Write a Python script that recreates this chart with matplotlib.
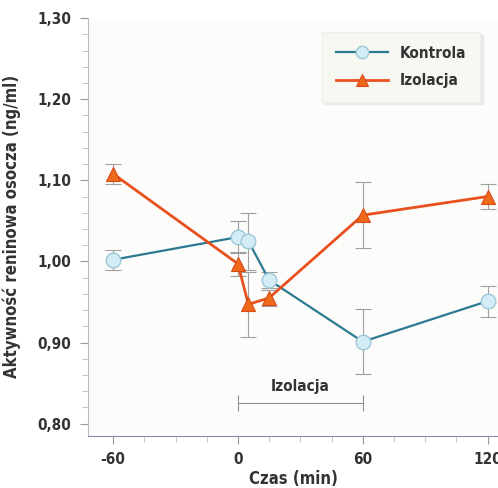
import numpy as np
import matplotlib
matplotlib.use('Agg')
import matplotlib.pyplot as plt
from matplotlib.ticker import MultipleLocator, FuncFormatter

plt.rcParams['font.family'] = ['DejaVu Sans']
plt.rcParams['font.stretch'] = 'condensed'
plt.rcParams['font.weight'] = 'bold'
plt.rcParams['axes.labelweight'] = 'bold'
plt.rcParams['axes.unicode_minus'] = False

# time points (min)
czas = [-60, 0, 5, 15, 60, 120]

kontrola = [1.002, 1.030, 1.025, 0.977, 0.901, 0.951]
kontrola_err = [0.012, 0.020, 0.035, 0.010, 0.040, 0.019]

izolacja = [1.108, 0.997, 0.947, 0.955, 1.057, 1.080]
izolacja_err = [0.012, 0.015, 0.040, 0.010, 0.041, 0.015]

y_ticks = [0.80, 0.90, 1.00, 1.10, 1.20, 1.30]
x_ticks = [-60, 0, 60, 120]
okres_izolacji = [0, 60]

fig = plt.figure(figsize=(4.98, 4.88), dpi=100)
ax = fig.add_axes([0.177, 0.107, 0.823, 0.856])
ax.set_facecolor('#fcfcfa')

ax.errorbar(czas, kontrola, yerr=kontrola_err, fmt='none', ecolor='#a0a0a0',
            elinewidth=0.8, capsize=6, capthick=0.8, zorder=2)
ax.errorbar(czas, izolacja, yerr=izolacja_err, fmt='none', ecolor='#a0a0a0',
            elinewidth=0.8, capsize=6, capthick=0.8, zorder=2)

ax.plot(czas, kontrola, color='#2c7a92', lw=1.6, marker='o', ms=10.5,
        mfc='#d4ecf4', mec='#9cc8d8', mew=1.0, label='Kontrola', zorder=3)
ax.plot(czas, izolacja, color='#e8501e', lw=2.0, marker='^', ms=10,
        mfc='#ee6a1a', mec='#d84a18', mew=0.8, label='Izolacja', zorder=4)

# isolation period bracket
ax.errorbar([np.mean(okres_izolacji)], [0.825], xerr=[[30], [30]], fmt='none',
            ecolor='#909090', elinewidth=0.8, capsize=6, capthick=0.8)
ax.text(np.mean(okres_izolacji), 0.836, 'Izolacja', ha='center', va='bottom',
        fontsize=11, color='#333333')

ax.set_xlim(-72, 125)
ax.set_ylim(0.785, 1.30)
ax.set_xticks(x_ticks)
ax.set_yticks(y_ticks)
ax.xaxis.set_minor_locator(MultipleLocator(15))
ax.yaxis.set_minor_locator(MultipleLocator(0.02))
ax.yaxis.set_major_formatter(FuncFormatter(lambda v, p: f'{v:.2f}'.replace('.', ',')))
ax.tick_params(axis='both', which='major', length=6, width=0.8, color='#999999',
               labelsize=11, labelcolor='#333333', pad=6)
ax.tick_params(axis='both', which='minor', length=4, width=0.6, color='#bbbbbb')

for s in ['top', 'right']:
    ax.spines[s].set_visible(False)
ax.spines['left'].set_color('#bbbbbb')
ax.spines['bottom'].set_color('#8a8ab0')

ax.set_xlabel('Czas (min)', fontsize=12, color='#333333', labelpad=2)
ax.set_ylabel('Aktywność reninowa osocza (ng/ml)', fontsize=12, color='#333333', labelpad=12)

leg = ax.legend(loc='upper right', bbox_to_anchor=(0.975, 0.985), fontsize=11,
                handlelength=3.4, frameon=True, fancybox=False, shadow={'color': '#dddddd'},
                borderpad=0.9, labelspacing=0.8, markerscale=0.85)
leg.get_frame().set_facecolor('#f8f8f2')
leg.get_frame().set_edgecolor('#eeeeee')
for t in leg.get_texts():
    t.set_color('#333333')

fig.savefig('out.png', dpi=100)
